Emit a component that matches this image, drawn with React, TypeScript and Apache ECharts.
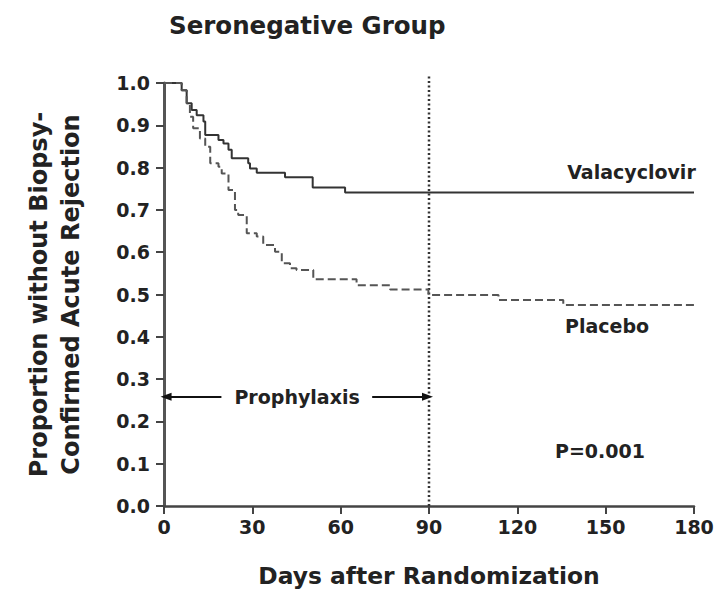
import React, { useEffect, useRef } from "react";
import * as echarts from "echarts";

// Kaplan-Meier estimates: [day, proportion]
const valacyclovirDays = [0, 4.9, 6.0, 7.7, 9.4, 11.1, 13.4, 14.0, 18.5, 20.2, 21.9, 23.0, 28.6, 29.2, 31.5, 41.1, 50.5, 61.5, 180];
const valacyclovirValues = [1.0, 1.0, 0.983, 0.952, 0.936, 0.924, 0.909, 0.877, 0.865, 0.857, 0.842, 0.822, 0.81, 0.798, 0.788, 0.777, 0.753, 0.741, 0.741];

const placeboDays = [0, 4.9, 6.0, 7.7, 8.8, 9.9, 12.2, 14.0, 15.7, 18.5, 19.6, 21.9, 24.1, 25.2, 28.1, 31.5, 33.7, 37.7, 40.0, 42.8, 45.0, 50.7, 65.4, 76.8, 89.8, 113.6, 135.6, 180];
const placeboValues = [1.0, 1.0, 0.983, 0.952, 0.92, 0.893, 0.869, 0.849, 0.81, 0.802, 0.786, 0.747, 0.7, 0.688, 0.645, 0.637, 0.617, 0.601, 0.574, 0.562, 0.558, 0.536, 0.522, 0.512, 0.499, 0.487, 0.475, 0.475];

const xTicks = [0, 30, 60, 90, 120, 150, 180];
const yTicks = [0.0, 0.1, 0.2, 0.3, 0.4, 0.5, 0.6, 0.7, 0.8, 0.9, 1.0];

const prophylaxisEnd = 90;
const prophylaxisLineTop = 1.02;
const arrowY = 0.258;
const arrowLeft = [19.5, 0.7];
const arrowRight = [70.7, 89.5];

const annotationTexts = ["Valacyclovir", "Placebo", "P=0.001", "Prophylaxis"];
const annotationX = [180.6, 136.2, 132.8, 45.2];
const annotationY = [0.79, 0.426, 0.13, 0.258];
const annotationAlign = ["right", "left", "left", "center"];

const title = "Seronegative Group";
const xName = "Days after Randomization";
const yName = "Proportion without Biopsy-\nConfirmed Acute Rejection";

const FONT = "DejaVu Sans";
const TEXT = "#222";

export default function App() {
  const ref = useRef<HTMLDivElement>(null);
  useEffect(() => {
    document.body.style.margin = "0";
    const chart = echarts.init(ref.current!, undefined, { renderer: "svg" });
    const val = valacyclovirDays.map((d, i) => [d, valacyclovirValues[i]]);
    const pla = placeboDays.map((d, i) => [d, placeboValues[i]]);
    chart.setOption({
      animation: false,
      backgroundColor: "#fff",
      title: {
        text: title,
        left: 164,
        top: 8,
        textStyle: { fontFamily: FONT, fontWeight: "bold", fontSize: 24.5, color: TEXT },
      },
      grid: { left: 164, right: 24, top: 83, bottom: 88 },
      xAxis: {
        type: "value",
        min: xTicks[0],
        max: xTicks[xTicks.length - 1],
        interval: 30,
        name: xName,
        nameLocation: "middle",
        nameGap: 58,
        nameTextStyle: { fontFamily: FONT, fontWeight: "bold", fontSize: 23.4, color: TEXT },
        axisLine: { lineStyle: { color: "#444", width: 2.5 } },
        axisTick: { show: true, length: 8, lineStyle: { color: "#444", width: 2 } },
        axisLabel: { fontFamily: FONT, fontWeight: "bold", fontSize: 19, color: TEXT, margin: 11 },
        splitLine: { show: false },
      },
      yAxis: {
        type: "value",
        min: yTicks[0],
        max: yTicks[yTicks.length - 1],
        interval: 0.1,
        name: yName,
        nameLocation: "middle",
        nameGap: 77,
        nameTextStyle: { fontFamily: FONT, fontWeight: "bold", fontSize: 24, color: TEXT, lineHeight: 32 },
        axisLine: { show: true, lineStyle: { color: "#555", width: 3 } },
        axisTick: { show: true, length: 8, lineStyle: { color: "#444", width: 2 } },
        axisLabel: {
          fontFamily: FONT,
          fontWeight: "bold",
          fontSize: 19,
          color: TEXT,
          margin: 14,
          formatter: (v: number) => v.toFixed(1),
        },
        splitLine: { show: false },
      },
      series: [
        {
          name: "Valacyclovir",
          type: "line",
          step: "end",
          data: val,
          symbol: "none",
          lineStyle: { color: "#333", width: 2 },
          z: 3,
        },
        {
          name: "Placebo",
          type: "line",
          step: "end",
          data: pla,
          symbol: "none",
          lineStyle: { color: "#555", width: 2, type: [8, 4] },
          z: 3,
        },
        {
          name: "Prophylaxis end",
          type: "line",
          data: [
            [prophylaxisEnd, 0],
            [prophylaxisEnd, prophylaxisLineTop],
          ],
          clip: false,
          symbol: "none",
          lineStyle: { color: "#333", width: 2.5, type: [2, 2.5] },
          z: 2,
          markLine: {
            silent: true,
            symbol: ["none", "triangle"],
            symbolSize: [8, 11],
            label: { show: false },
            itemStyle: { color: "#111" },
            lineStyle: { color: "#111", width: 2, type: "solid" },
            data: [
              [{ coord: [arrowLeft[0], arrowY] }, { coord: [arrowLeft[1], arrowY] }],
              [{ coord: [arrowRight[0], arrowY] }, { coord: [arrowRight[1], arrowY] }],
            ],
          },
        },
      ],
    });
    // Annotation texts, positioned through the chart's own scales
    chart.setOption({
      graphic: annotationTexts.map((t, i) => {
        const [px, py] = chart.convertToPixel({ gridIndex: 0 }, [annotationX[i], annotationY[i]]) as number[];
        return {
          type: "text",
          x: px,
          y: py,
          silent: true,
          z: 10,
          style: {
            text: t,
            fill: TEXT,
            font: `bold 19px "${FONT}"`,
            align: annotationAlign[i],
            verticalAlign: "middle",
          },
        };
      }),
    });
    return () => chart.dispose();
  }, []);
  return <div ref={ref} style={{ width: 718, height: 594 }} />;
}
